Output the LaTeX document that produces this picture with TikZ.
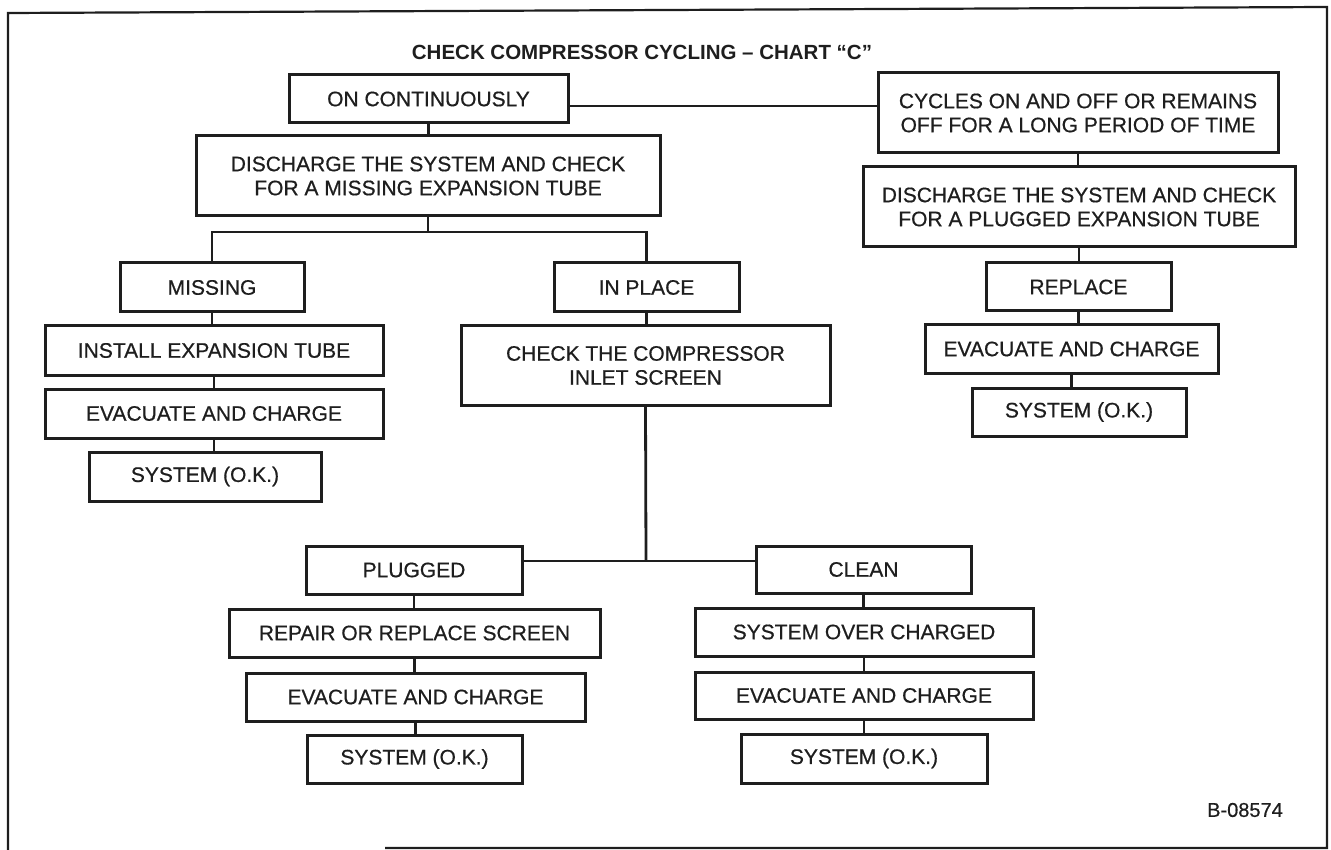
\documentclass[tikz,border=0pt]{standalone}
\usepackage{fontspec}
\setmainfont{Liberation Sans}
\newfontfamily\medfont{Liberation Sans}[FakeBold=0.6]
\definecolor{ink}{RGB}{30,30,30}
\begin{document}
\begin{tikzpicture}[x=1pt,y=-1pt,
  box/.style={draw=ink, text=ink, line width=3pt, rectangle, inner sep=0pt,
    align=center, font=\medfont\fontsize{21}{24}\selectfont},
  conn/.style={draw=ink, line width=2.8pt},
  frame/.style={draw=ink, line width=2.2pt}]
\useasboundingbox (0,0) rectangle (1331,850);
\draw[frame] (385,848) -- (1327,848) -- (1327,7) -- (8,13) -- (8,850);
\node[text=ink, font=\bfseries\fontsize{20.5}{24}\selectfont] (title) at (642,52) {CHECK COMPRESSOR CYCLING -- CHART ``C''};
% top level
\node[box, minimum width=279pt, minimum height=48pt] (on) at (428.5,99) {ON CONTINUOUSLY};
\node[box, minimum width=400pt, minimum height=80pt] (cyc) at (1078,113) {CYCLES ON AND OFF OR REMAINS\\OFF FOR A LONG PERIOD OF TIME};
\node[box, minimum width=464pt, minimum height=80pt] (dl) at (428,176) {DISCHARGE THE SYSTEM AND CHECK\\FOR A MISSING EXPANSION TUBE};
\node[box, minimum width=432pt, minimum height=80pt] (dr) at (1079,207) {DISCHARGE THE SYSTEM AND CHECK\\FOR A PLUGGED EXPANSION TUBE};
% left column
\node[box, minimum width=184pt, minimum height=49pt] (miss) at (212,287.5) {MISSING};
\node[box, minimum width=338pt, minimum height=49pt] (inst) at (214,350.5) {INSTALL EXPANSION TUBE};
\node[box, minimum width=338pt, minimum height=49pt] (evl) at (214,413.5) {EVACUATE AND CHARGE};
\node[box, minimum width=232pt, minimum height=49pt] (sysl) at (205,476.5) {SYSTEM (O.K.)};
% middle column
\node[box, minimum width=185pt, minimum height=49pt] (inpl) at (646.5,287.5) {IN PLACE};
\node[box, minimum width=369pt, minimum height=79pt] (chk) at (645.5,365.5) {CHECK THE COMPRESSOR\\INLET SCREEN};
% right column
\node[box, minimum width=185pt, minimum height=48pt] (repl) at (1078.5,287) {REPLACE};
\node[box, minimum width=293pt, minimum height=48pt] (evr) at (1071.5,349) {EVACUATE AND CHARGE};
\node[box, minimum width=214pt, minimum height=48pt] (sysr) at (1079,412) {SYSTEM (O.K.)};
% plugged column
\node[box, minimum width=216pt, minimum height=48pt] (plug) at (414,570) {PLUGGED};
\node[box, minimum width=371pt, minimum height=48pt] (rep) at (414.5,633) {REPAIR OR REPLACE SCREEN};
\node[box, minimum width=339pt, minimum height=48pt] (evp) at (415.5,697) {EVACUATE AND CHARGE};
\node[box, minimum width=215pt, minimum height=48pt] (sysp) at (414.5,759) {SYSTEM (O.K.)};
% clean column
\node[box, minimum width=215pt, minimum height=47pt] (clean) at (863.5,569.5) {CLEAN};
\node[box, minimum width=338pt, minimum height=48pt] (over) at (864,632) {SYSTEM OVER CHARGED};
\node[box, minimum width=338pt, minimum height=47pt] (evc) at (864,695.5) {EVACUATE AND CHARGE};
\node[box, minimum width=246pt, minimum height=49pt] (sysc) at (864,758.5) {SYSTEM (O.K.)};
\node[text=ink, font=\medfont\fontsize{20}{24}\selectfont] (code) at (1245,810) {B-08574};
% connectors
\coordinate (br1) at (428,232);
\coordinate (br2) at (646,561);
\draw[conn] ([yshift=-7pt]on.east) -- ([yshift=-7pt]on.east -| cyc.west);
\draw[conn] (on.south) -- (on.south |- dl.north);
\draw[conn] (dl.south) -- (br1);
\draw[conn] (miss.north) |- (br1) -| (inpl.north);
\draw[conn] (miss.south) -- (miss.south |- inst.north);
\draw[conn] (inst.south) -- (inst.south |- evl.north);
\draw[conn] (evl.south) -- (evl.south |- sysl.north);
\draw[conn] (inpl.south) -- (inpl.south |- chk.north);
\draw[conn] (chk.south) -- (br2);
\draw[conn] (plug.east |- br2) -- (clean.west |- br2);
\draw[conn] (plug.south) -- (plug.south |- rep.north);
\draw[conn] (rep.south) -- (rep.south |- evp.north);
\draw[conn] (evp.south) -- (evp.south |- sysp.north);
\draw[conn] (clean.south) -- (clean.south |- over.north);
\draw[conn] (over.south) -- (over.south |- evc.north);
\draw[conn] (evc.south) -- (evc.south |- sysc.north);
\draw[conn] (cyc.south) -- (cyc.south |- dr.north);
\draw[conn] (dr.south) -- (dr.south |- repl.north);
\draw[conn] (repl.south) -- (repl.south |- evr.north);
\draw[conn] (evr.south) -- (evr.south |- sysr.north);
\end{tikzpicture}
\end{document}
